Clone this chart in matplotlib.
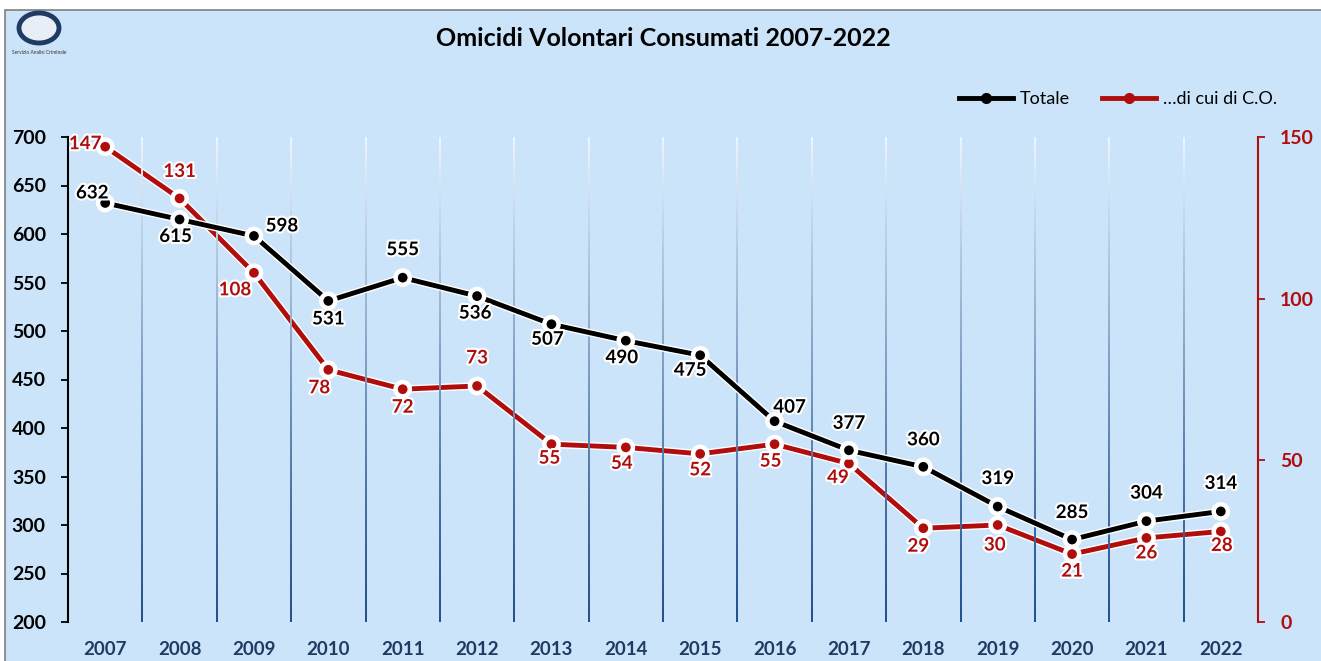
import numpy as np
import matplotlib
matplotlib.use('Agg')
import matplotlib.pyplot as plt
import matplotlib.patheffects as pe
from matplotlib.collections import LineCollection
from matplotlib.patches import Rectangle, Ellipse
from matplotlib.lines import Line2D

plt.rcParams['font.family'] = ['Lato', 'DejaVu Sans']

anni = [str(a) for a in range(2007, 2023)]
totale = [632, 615, 598, 531, 555, 536, 507, 490, 475, 407, 377, 360, 319, 285, 304, 314]
di_cui_co = [147, 131, 108, 78, 72, 73, 55, 54, 52, 55, 49, 29, 30, 21, 26, 28]

# spostamento etichette (pixel)
off_tot = [(-13, 10), (-4, -17), (28, 10), (0, -18), (0, 28), (-2, -17), (-4, -15), (-4, -17),
           (-10, -15), (15, 14), (0, 27), (0, 27), (0, 28), (0, 27), (0, 28), (0, 28)]
off_co = [(-20, 3), (0, 27), (-19, -17), (-9, -18), (0, -18), (0, 28), (-2, -14), (-4, -16),
          (0, -16), (-4, -17), (-11, -14), (-5, -18), (-3, -20), (0, -17), (0, -15), (1, -14)]

sfondo = '#cce4f9'
rosso = '#b00d0d'
blu_anni = '#1f3b63'

def main():
    fig = plt.figure(figsize=(13.21, 6.61), dpi=100)
    fig.patch.set_facecolor('white')
    fig.patches.append(Rectangle((5 / 1321, -0.01), 1.0, 1 - 10 / 661 + 0.01,
                                 transform=fig.transFigure, facecolor=sfondo,
                                 edgecolor='#7f7f7f', linewidth=1.2, zorder=-10))

    # logo semplificato
    fig.patches.append(Ellipse((39 / 1321, 1 - 28 / 661), 40 / 1321, 30 / 661,
                               transform=fig.transFigure, facecolor='#e8eef6',
                               edgecolor='#1f3b63', linewidth=3.5))
    fig.text(39 / 1321, 1 - 52 / 661, 'Servizio Analisi Criminale', fontsize=3.5,
             ha='center', va='center', color='#333333')

    ax = fig.add_axes([68 / 1321, 39 / 661, 1190 / 1321, 485 / 661])
    ax.set_facecolor('none')
    x = np.arange(len(anni))

    ax.set_xlim(-0.5, len(anni) - 0.5)
    ax.set_ylim(200, 700)

    # linee verticali sfumate
    yy = np.linspace(200, 700, 60)
    c0 = np.array([0.12, 0.31, 0.55])
    c1 = np.array([0.93, 0.96, 1.0])
    for xi in x[:-1] + 0.5:
        segs = [[(xi, yy[k]), (xi, yy[k + 1])] for k in range(len(yy) - 1)]
        t = np.linspace(0, 1, len(segs))[:, None] ** 1.2
        cols = c0 * (1 - t) + c1 * t
        ax.add_collection(LineCollection(segs, colors=cols, linewidths=1.4, zorder=1))

    glow = [pe.Stroke(linewidth=5.5, foreground='white'), pe.Normal()]
    txt_glow = [pe.withStroke(linewidth=3, foreground='white')]

    ax2 = ax.twinx()
    ax2.set_ylim(0, 150)

    ax2.plot(x, di_cui_co, color=rosso, lw=3.5, marker='o', ms=8,
             mec='white', mew=1, path_effects=glow, zorder=3)
    ax.set_zorder(ax2.get_zorder() + 1)
    ax.plot(x, totale, color='black', lw=3.5, marker='o', ms=8,
            mec='white', mew=1, path_effects=glow, zorder=3)

    for i in range(len(anni)):
        ax.annotate(str(totale[i]), (x[i], totale[i]), xytext=off_tot[i],
                    textcoords='offset pixels', ha='center', va='center',
                    fontsize=13.5, fontweight='bold', color='black', path_effects=txt_glow)
        ax2.annotate(str(di_cui_co[i]), (x[i], di_cui_co[i]), xytext=off_co[i],
                     textcoords='offset pixels', ha='center', va='center',
                     fontsize=13.5, fontweight='bold', color=rosso, path_effects=txt_glow)

    ax.set_xticks(x)
    ax.set_xticklabels(anni, fontsize=13.5, fontweight='bold', color=blu_anni)
    ax.tick_params(axis='x', length=0, pad=14)
    ax.set_yticks(range(200, 701, 50))
    ax.tick_params(axis='y', labelsize=14, width=1.3, length=5, direction='out', pad=11)
    for t in ax.get_yticklabels():
        t.set_fontweight('bold')

    ax2.set_yticks([0, 50, 100, 150])
    ax2.tick_params(axis='y', labelsize=14, width=1.3, length=5, colors=rosso, pad=11)
    for t in ax2.get_yticklabels():
        t.set_fontweight('bold')

    for a in (ax, ax2):
        a.spines['top'].set_visible(False)
        a.spines['bottom'].set_visible(False)
    ax.spines['right'].set_visible(False)
    ax.spines['left'].set_linewidth(1.5)
    ax2.spines['left'].set_visible(False)
    ax2.spines['right'].set_color(rosso)
    ax2.spines['right'].set_linewidth(1.5)

    fig.text(663 / 1321, 1 - 38 / 661, 'Omicidi Volontari Consumati 2007-2022',
             ha='center', va='center', fontsize=18, fontweight='bold')

    h1 = Line2D([], [], color='black', lw=3.5, marker='o', ms=7)
    h2 = Line2D([], [], color=rosso, lw=3.5, marker='o', ms=7)
    fig.legend([h1, h2], ['Totale', '…di cui di C.O.'], loc='center right',
               bbox_to_anchor=(1293 / 1321, 1 - 99 / 661), ncol=2, frameon=False,
               fontsize=13, handlelength=3.0, columnspacing=1.8, handletextpad=0.35)

    fig.savefig('out.png', dpi=100, facecolor='white')

if __name__ == "__main__":
    main()
